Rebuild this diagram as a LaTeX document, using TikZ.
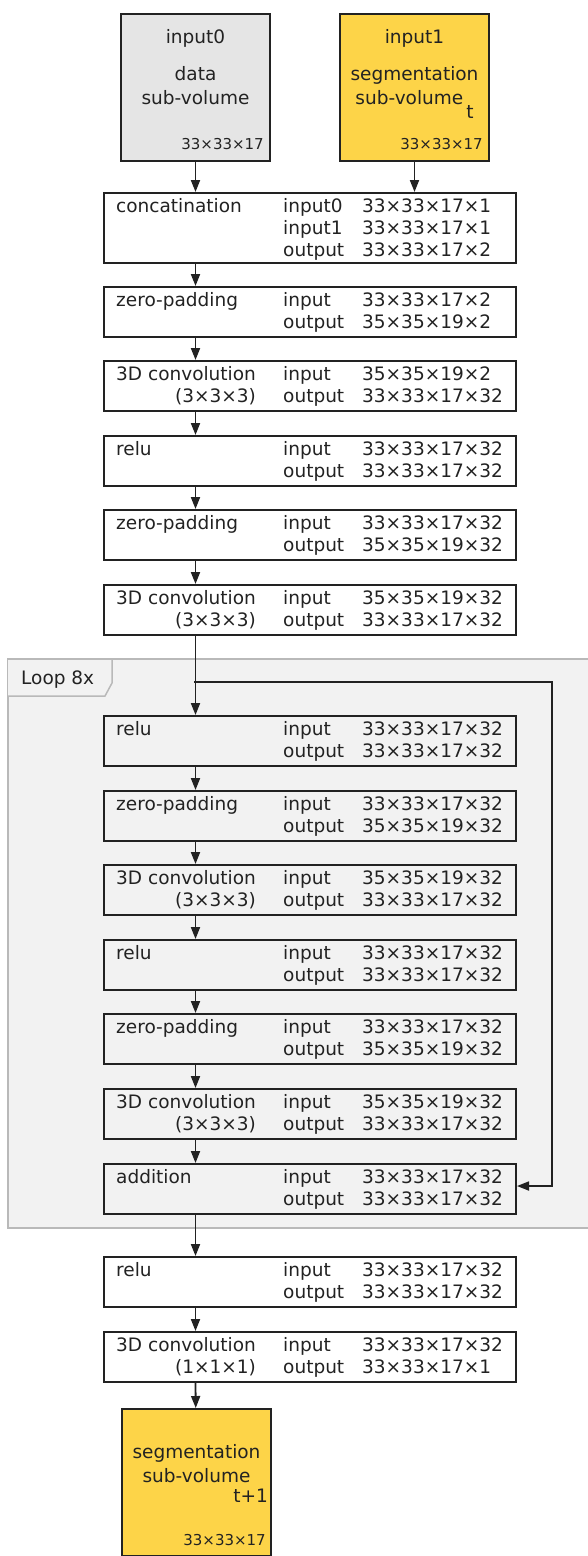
\documentclass[tikz,border=0pt]{standalone}
\usepackage{fontspec}
\setmainfont{DejaVu Sans}
\usetikzlibrary{arrows.meta}

\definecolor{datagray}{RGB}{229,229,229}
\definecolor{segyellow}{RGB}{253,212,72}
\definecolor{loopgray}{RGB}{242,242,242}
\definecolor{loopedge}{RGB}{185,185,185}
\definecolor{ink}{RGB}{34,34,34}

\tikzset{
  layer/.style={draw=ink, line width=2pt, anchor=north west, minimum width=412pt, minimum height=50pt, inner sep=0pt},
  volume/.style={draw=ink, line width=2pt, anchor=north west, minimum width=149pt, minimum height=147pt, inner sep=0pt},
  txt/.style={inner sep=0pt, anchor=base west, text=ink, font=\fontsize{18.5pt}{22pt}\selectfont},
  ctxt/.style={txt, anchor=base},
  dims/.style={inner sep=0pt, anchor=base east, text=ink, font=\fontsize{15pt}{17pt}\selectfont},
  flow/.style={draw=ink, line width=1.8pt, -{Triangle[length=12pt,width=9pt]}},
}

% one row of a layer: label and tensor size
\newcommand{\iorow}[5]{%
  \node[txt] (#1-l#3) at (283,{#2+20+22*#3}) {#4};
  \node[txt] (#1-s#3) at (362,{#2+20+22*#3}) {#5};}

% layer box: name, top, title, kernel, input size, output size
\newcommand{\layer}[6]{%
  \node[layer] (#1) at (103,#2) {};
  \node[txt] (#1-t) at (116,{#2+20}) {#3};
  \node[txt, anchor=base east] (#1-k) at ([yshift=-22pt]#1-t.base east) {#4};
  \iorow{#1}{#2}{0}{input}{#5}
  \iorow{#1}{#2}{1}{output}{#6}}

\begin{document}
\begin{tikzpicture}[x=1pt, y=-1pt]
\useasboundingbox (0,0) rectangle (588,1556);

% Loop region
\draw[loopedge, line width=1.5pt, fill=loopgray] (8,659) rectangle (600,1228);
\draw[loopedge, line width=1.5pt, fill=loopgray] (8,659) -- (112,659) -- (112,683) -- (105,696) -- (8,696);
\node[txt] (looplbl) at (21,684) {Loop 8x};

% Inputs
\node[volume, fill=datagray] (in0) at (120,13) {};
\node[ctxt] (in0-a) at ([yshift=-30pt]in0.north) {input0};
\node[ctxt] (in0-b) at ([yshift=-67pt]in0.north) {data};
\node[ctxt] (in0-c) at ([yshift=-91pt]in0.north) {sub-volume};
\node[dims] (in0-d) at ([xshift=-7pt,yshift=13pt]in0.south east) {33×33×17};

\node[volume, fill=segyellow] (in1) at (339,13) {};
\node[ctxt] (in1-a) at ([yshift=-30pt]in1.north) {input1};
\node[ctxt] (in1-b) at ([yshift=-67pt]in1.north) {segmentation};
\node[ctxt] (in1-c) at ([yshift=-91pt]in1.north) {sub-volume\kern3pt\raisebox{-14pt}{t}};
\node[dims] (in1-d) at ([xshift=-7pt,yshift=13pt]in1.south east) {33×33×17};

% Concatenation
\node[layer, minimum height=70pt] (conc) at (103,192) {};
\node[txt] (conc-t) at (116,212) {concatination};
\iorow{conc}{192}{0}{input0}{33×33×17×1}
\iorow{conc}{192}{1}{input1}{33×33×17×1}
\iorow{conc}{192}{2}{output}{33×33×17×2}

% Layers before the loop
\layer{zp1}{286}{zero-padding}{}{33×33×17×2}{35×35×19×2}
\layer{cv1}{360}{3D convolution}{(3×3×3)}{35×35×19×2}{33×33×17×32}
\layer{re1}{435}{relu}{}{33×33×17×32}{33×33×17×32}
\layer{zp2}{509}{zero-padding}{}{33×33×17×32}{35×35×19×32}
\layer{cv2}{584}{3D convolution}{(3×3×3)}{35×35×19×32}{33×33×17×32}

% Residual block
\layer{re3}{715}{relu}{}{33×33×17×32}{33×33×17×32}
\layer{zp3}{790}{zero-padding}{}{33×33×17×32}{35×35×19×32}
\layer{cv3}{864}{3D convolution}{(3×3×3)}{35×35×19×32}{33×33×17×32}
\layer{re4}{939}{relu}{}{33×33×17×32}{33×33×17×32}
\layer{zp4}{1013}{zero-padding}{}{33×33×17×32}{35×35×19×32}
\layer{cv4}{1088}{3D convolution}{(3×3×3)}{35×35×19×32}{33×33×17×32}
\layer{add}{1163}{addition}{}{33×33×17×32}{33×33×17×32}

% Output layers
\layer{re5}{1256}{relu}{}{33×33×17×32}{33×33×17×32}
\layer{cv5}{1331}{3D convolution}{(1×1×1)}{33×33×17×32}{33×33×17×1}

\node[volume, fill=segyellow] (out) at (121,1408) {};
\node[ctxt] (out-a) at ([yshift=-50pt]out.north) {segmentation};
\node[ctxt] (out-b) at ([yshift=-74pt]out.north) {sub-volume};
\node[txt, anchor=base east] (out-c) at ([xshift=-4pt,yshift=-94pt]out.north east) {t+1};
\node[dims] (out-d) at ([xshift=-6pt,yshift=12pt]out.south east) {33×33×17};

% Connections
\draw[flow] (in0) -- (in0 |- conc.north);
\draw[flow] (in1) -- (in1 |- conc.north);
\foreach \a/\b in {conc/zp1, zp1/cv1, cv1/re1, re1/zp2, zp2/cv2, cv2/re3, re3/zp3, zp3/cv3, cv3/re4, re4/zp4, zp4/cv4, cv4/add, add/re5, re5/cv5}
  \draw[flow] (in0 |- \a.south) -- (in0 |- \b.north);
\draw[flow] (in0 |- cv5.south) -- (out);

% Skip connection
\coordinate (split) at (194,682);
\coordinate (skip) at (552,682);
\draw[flow] (split) -- (skip) |- ([yshift=3pt]add.east);

\end{tikzpicture}
\end{document}
